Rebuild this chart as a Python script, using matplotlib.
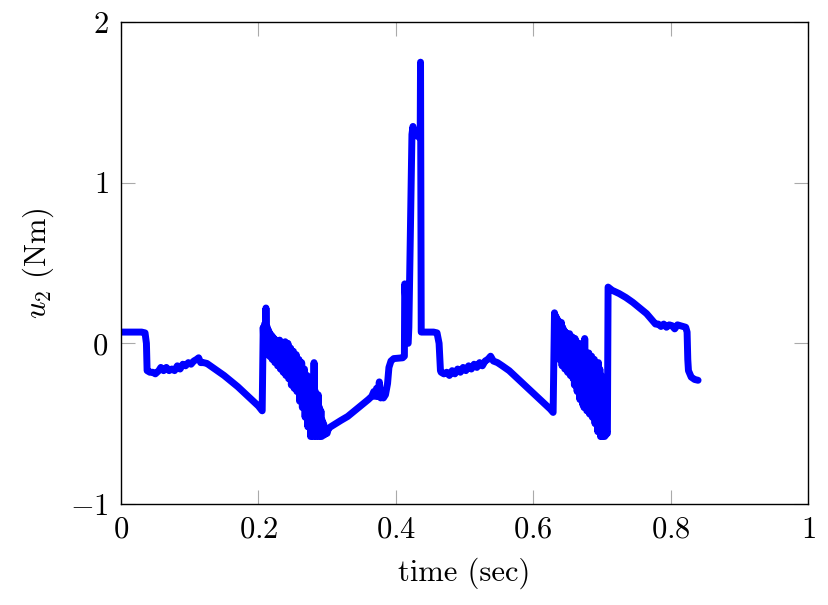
import matplotlib
matplotlib.use("Agg")
import matplotlib.pyplot as plt
from matplotlib.ticker import FixedLocator, FixedFormatter

plt.rcParams['font.family'] = ['cmr10', 'DejaVu Serif']
plt.rcParams['mathtext.fontset'] = 'cm'
plt.rcParams['axes.unicode_minus'] = True

# time (sec)
time = [
    0.000, 0.030, 0.035, 0.037, 0.038, 0.042, 0.046, 0.050, 0.055, 0.058,
    0.062, 0.066, 0.070, 0.074, 0.078, 0.082, 0.086, 0.090, 0.094, 0.098,
    0.102, 0.106, 0.110, 0.113, 0.116, 0.120, 0.125, 0.130, 0.140, 0.150,
    0.160, 0.170, 0.180, 0.190, 0.200, 0.2055,
    0.2065, 0.207, 0.208, 0.209, 0.210, 0.211, 0.212, 0.213, 0.214, 0.215,
    0.216, 0.217, 0.218, 0.219, 0.220, 0.221, 0.222, 0.223, 0.224, 0.225,
    0.226, 0.227, 0.228, 0.229, 0.230, 0.231, 0.232, 0.233, 0.234, 0.235,
    0.236, 0.237, 0.238, 0.239, 0.240, 0.241, 0.242, 0.243, 0.244, 0.245,
    0.246, 0.247, 0.248, 0.249, 0.250, 0.251, 0.252, 0.253, 0.254, 0.255,
    0.256, 0.257, 0.258, 0.259, 0.260, 0.261, 0.262, 0.263, 0.264, 0.265,
    0.266, 0.267, 0.268, 0.269, 0.270, 0.271, 0.272, 0.273, 0.274, 0.275,
    0.276, 0.277, 0.278, 0.279, 0.280, 0.281, 0.282, 0.283, 0.284, 0.285,
    0.286, 0.287, 0.288, 0.289, 0.290, 0.291, 0.292, 0.293, 0.294, 0.295,
    0.296, 0.298, 0.300, 0.302, 0.305,
    0.320, 0.330, 0.340, 0.350, 0.360, 0.365, 0.368, 0.370, 0.372, 0.374,
    0.376, 0.378, 0.380, 0.382, 0.385, 0.388, 0.390, 0.393, 0.397, 0.410,
    0.4125, 0.413, 0.414, 0.416, 0.418, 0.419, 0.4235, 0.425, 0.4265, 0.4355,
    0.436, 0.437, 0.440, 0.455, 0.460, 0.463, 0.465,
    0.466, 0.470, 0.474, 0.478, 0.482, 0.486, 0.490, 0.494, 0.498, 0.502,
    0.506, 0.510, 0.514, 0.518, 0.522, 0.526, 0.530, 0.534, 0.538, 0.542,
    0.548, 0.555, 0.565, 0.575, 0.585, 0.595, 0.605, 0.615, 0.625, 0.629,
    0.630, 0.631, 0.632, 0.633, 0.634, 0.635, 0.636, 0.637, 0.638, 0.639,
    0.640, 0.641, 0.642, 0.643, 0.644, 0.645, 0.646, 0.647, 0.648, 0.649,
    0.650, 0.651, 0.652, 0.653, 0.654, 0.655, 0.656, 0.657, 0.658, 0.659,
    0.660, 0.661, 0.662, 0.663, 0.664, 0.665, 0.666, 0.667, 0.668, 0.669,
    0.670, 0.671, 0.672, 0.673, 0.674, 0.675, 0.676, 0.677, 0.678, 0.679,
    0.680, 0.681, 0.682, 0.683, 0.684, 0.685, 0.686, 0.687, 0.688, 0.689,
    0.690, 0.691, 0.692, 0.693, 0.694, 0.695, 0.696, 0.697, 0.698, 0.699,
    0.700, 0.701, 0.702, 0.703, 0.704, 0.705, 0.706, 0.707, 0.708,
    0.709, 0.715, 0.725, 0.735, 0.745, 0.755, 0.765, 0.772, 0.778,
    0.782, 0.786, 0.790, 0.794, 0.798, 0.802, 0.806, 0.810, 0.814, 0.818,
    0.822, 0.824, 0.825, 0.826, 0.830, 0.835, 0.840,
]

# u2 (Nm)
u2 = [
    0.070, 0.070, 0.065, 0.000, -0.170, -0.180, -0.180, -0.190, -0.170, -0.150,
    -0.170, -0.150, -0.170, -0.160, -0.170, -0.140, -0.160, -0.130, -0.140, -0.120,
    -0.130, -0.110, -0.100, -0.090, -0.120, -0.120, -0.125, -0.140, -0.170, -0.200,
    -0.235, -0.270, -0.310, -0.350, -0.390, -0.420,
    -0.100, 0.100, -0.020, 0.120, -0.040, 0.220, 0.020, 0.100, -0.060, 0.080,
    -0.080, 0.060, -0.040, 0.050, -0.100, 0.040, -0.060, 0.030, -0.120, 0.020,
    -0.080, 0.010, -0.140, 0.000, -0.100, 0.020, -0.160, -0.020, -0.120, 0.000,
    -0.180, -0.030, -0.140, 0.010, -0.200, -0.040, -0.160, 0.000, -0.220, -0.060,
    -0.180, -0.030, -0.260, -0.080, -0.200, -0.050, -0.280, -0.100, -0.240, -0.070,
    -0.300, -0.120, -0.280, -0.100, -0.360, -0.150, -0.320, -0.120, -0.400, -0.180,
    -0.380, -0.160, -0.460, -0.220, -0.420, -0.200, -0.520, -0.260, -0.480, -0.280,
    -0.580, -0.300, -0.560, -0.250, -0.580, -0.120, -0.550, -0.300, -0.580, -0.350,
    -0.560, -0.320, -0.580, -0.400, -0.570, -0.420, -0.580, -0.480, -0.570, -0.500,
    -0.570, -0.550, -0.560, -0.530, -0.520,
    -0.480, -0.455, -0.420, -0.385, -0.350, -0.330, -0.300, -0.330, -0.280, -0.330,
    -0.240, -0.340, -0.300, -0.340, -0.320, -0.250, -0.150, -0.110, -0.095, -0.090,
    -0.080, 0.370, 0.300, 0.000, 0.000, 0.100, 1.300, 1.350, 1.300, 1.280,
    1.750, 0.070, 0.070, 0.070, 0.065, 0.000, -0.170,
    -0.180, -0.190, -0.180, -0.200, -0.170, -0.190, -0.160, -0.180, -0.150, -0.170,
    -0.140, -0.160, -0.130, -0.150, -0.120, -0.140, -0.110, -0.100, -0.080, -0.110,
    -0.120, -0.140, -0.170, -0.210, -0.250, -0.290, -0.330, -0.370, -0.410, -0.430,
    -0.100, 0.190, 0.020, 0.170, -0.060, 0.150, -0.040, 0.140, -0.100, 0.120,
    -0.080, 0.130, -0.140, 0.100, -0.100, 0.080, -0.160, 0.070, -0.120, 0.050,
    -0.180, 0.040, -0.140, 0.060, -0.200, 0.030, -0.180, 0.040, -0.220, 0.020,
    -0.260, 0.030, -0.240, 0.010, -0.300, -0.020, -0.280, 0.000, -0.350, -0.040,
    -0.320, -0.020, -0.380, -0.050, -0.400, 0.030, -0.380, -0.060, -0.420, -0.080,
    -0.400, -0.060, -0.440, -0.100, -0.420, -0.080, -0.460, -0.120, -0.440, -0.100,
    -0.500, -0.120, -0.480, -0.140, -0.550, -0.120, -0.520, -0.160, -0.580, -0.200,
    -0.580, -0.300, -0.570, -0.400, -0.580, -0.500, -0.570, -0.550, -0.560,
    0.350, 0.330, 0.310, 0.285, 0.255, 0.220, 0.185, 0.150, 0.120,
    0.120, 0.105, 0.120, 0.100, 0.115, 0.110, 0.090, 0.115, 0.110, 0.105,
    0.100, 0.070, -0.100, -0.170, -0.210, -0.225, -0.230,
]

x_ticks = [0, 0.2, 0.4, 0.6, 0.8, 1]
x_tick_labels = ['$0$', '$0.2$', '$0.4$', '$0.6$', '$0.8$', '$1$']
y_ticks = [-1, 0, 1, 2]
y_tick_labels = ['$-1$', '$0$', '$1$', '$2$']

fig = plt.figure(figsize=(8.29, 6.05), dpi=100)
ax = fig.add_axes([121/829, 1 - 504/605, (808 - 121)/829, (504 - 22)/605])

ax.plot(time, u2, color=(0, 0, 1), linewidth=5.0,
        solid_joinstyle='round', solid_capstyle='round')

ax.set_xlim(0, 1)
ax.set_ylim(-1, 2)
ax.xaxis.set_major_locator(FixedLocator(x_ticks))
ax.xaxis.set_major_formatter(FixedFormatter(x_tick_labels))
ax.yaxis.set_major_locator(FixedLocator(y_ticks))
ax.yaxis.set_major_formatter(FixedFormatter(y_tick_labels))

ax.tick_params(axis='both', which='major', direction='in', length=10,
               width=0.8, color='#aaaaaa', labelsize=22,
               top=True, right=True, pad=9)
for s in ax.spines.values():
    s.set_linewidth(1.0)
    s.set_color('black')

ax.set_xlabel('time (sec)', fontsize=22, labelpad=10)
ax.set_ylabel(r'$u_2$ (Nm)', fontsize=22, labelpad=10)

fig.savefig('out.png', dpi=100)
